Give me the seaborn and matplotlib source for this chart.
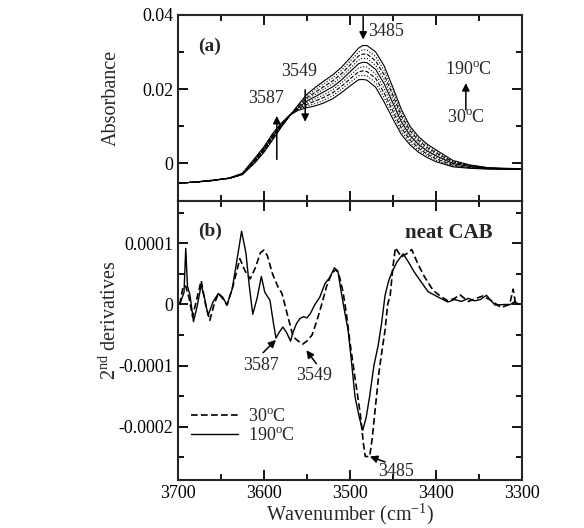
import numpy as np
import matplotlib.pyplot as plt
import seaborn as sns
from matplotlib.ticker import MultipleLocator, FuncFormatter

# (a) absorbance spectra, 30 -> 190 C, values in units of 1e-4
wn_abs = [3700, 3680, 3660, 3640, 3625, 3610, 3600, 3590, 3580, 3570, 3560,
          3550, 3540, 3530, 3520, 3510, 3500, 3490, 3485, 3480, 3470, 3460,
          3450, 3440, 3430, 3420, 3410, 3400, 3380, 3360, 3340, 3320, 3300]
temps = [30, 50, 70, 90, 110, 130, 150, 170, 190]
abs_30 = [-53, -50, -45, -40, -30, 3, 30, 63, 97, 128, 158, 186, 205, 222, 238, 258, 283,
          310, 317, 317, 300, 262, 205, 145, 100, 72, 52, 37, 8, -4, -11, -13, -14]
abs_50 = [-53, -50, -45, -40, -30, 5, 32, 65, 98, 128, 156, 182, 199, 215, 230, 250, 274,
          299, 306, 305, 288, 250, 194, 137, 94, 67, 48, 33, 6, -5, -11, -13, -14]
abs_70 = [-53, -50, -45, -40, -29, 6, 34, 67, 100, 129, 154, 177, 192, 207, 222, 241, 264,
          289, 294, 294, 276, 238, 184, 128, 88, 62, 43, 29, 4, -6, -12, -14, -15]
abs_90 = [-53, -50, -45, -40, -29, 8, 36, 69, 101, 129, 152, 173, 186, 200, 214, 233, 255,
          278, 283, 282, 264, 226, 173, 120, 81, 56, 39, 25, 2, -7, -12, -14, -15]
abs_110 = [-53, -50, -46, -39, -28, 10, 38, 72, 102, 129, 150, 168, 180, 193, 206, 224, 246,
           268, 272, 271, 253, 214, 163, 112, 75, 51, 34, 21, 0, -8, -13, -14, -15]
abs_130 = [-53, -50, -46, -39, -28, 11, 39, 74, 104, 129, 149, 164, 174, 185, 198, 216, 236,
           257, 260, 259, 241, 201, 152, 103, 69, 46, 30, 17, -2, -10, -13, -14, -15]
abs_150 = [-53, -50, -46, -39, -27, 13, 41, 76, 105, 130, 147, 159, 168, 178, 190, 207, 227,
           246, 249, 247, 229, 189, 141, 95, 63, 41, 25, 13, -5, -11, -14, -15, -15]
abs_170 = [-53, -50, -46, -39, -27, 14, 43, 78, 107, 130, 145, 155, 161, 170, 182, 199, 217,
           236, 237, 236, 217, 177, 131, 86, 56, 35, 21, 9, -7, -12, -14, -15, -16]
abs_190 = [-53, -50, -46, -39, -26, 16, 45, 80, 108, 130, 143, 150, 155, 163, 174, 190, 208,
           225, 226, 224, 205, 165, 120, 78, 50, 30, 16, 5, -9, -13, -15, -16, -16]
abs_all = [abs_30, abs_50, abs_70, abs_90, abs_110, abs_130, abs_150, abs_170, abs_190]

# (b) second derivatives, units of 1e-4
wn_d30 = [3698, 3694, 3691, 3687, 3683, 3678, 3673, 3668, 3663, 3658, 3653, 3648, 3643,
          3636, 3628, 3622, 3616, 3610, 3604, 3600, 3596, 3590, 3584, 3579, 3573, 3566,
          3560, 3555, 3550, 3544, 3538, 3533, 3527, 3521, 3516, 3512, 3508, 3504, 3500,
          3494, 3488, 3484, 3482, 3477, 3474, 3471, 3466, 3462, 3459, 3456, 3453, 3450,
          3447, 3440, 3432, 3428, 3421, 3413, 3403, 3394, 3386, 3378, 3372, 3362, 3353,
          3345, 3335, 3324, 3314, 3310, 3307, 3304]
d2_30 = [0.0, 0.3, 0.3, 0.1, -0.2, 0.1, 0.39, 0.0, -0.26, 0.0, 0.18, 0.1, -0.01,
         0.3, 0.75, 0.55, 0.42, 0.6, 0.85, 0.89, 0.8, 0.5, 0.3, 0.18, -0.15, -0.53,
         -0.6, -0.65, -0.6, -0.5, -0.25, -0.01, 0.3, 0.52, 0.57, 0.45, 0.21, -0.15, -0.61,
         -1.2, -1.78, -2.3, -2.49, -2.49, -2.2, -1.78, -1.1, -0.7, -0.42, 0.0, 0.15, 0.6,
         0.93, 0.78, 0.85, 0.9, 0.67, 0.45, 0.23, 0.13, 0.06, 0.1, 0.16, 0.05, 0.1,
         0.14, 0.06, -0.05, 0.0, 0.25, 0.0, 0.02]
wn_d190 = [3698, 3693, 3691, 3689, 3686, 3682, 3678, 3673, 3669, 3665, 3659, 3653, 3648,
           3643, 3637, 3633, 3626, 3621, 3617, 3613, 3608, 3603, 3599, 3593, 3589, 3586,
           3582, 3578, 3574, 3569, 3566, 3562, 3558, 3554, 3550, 3546, 3541, 3535, 3529,
           3523, 3518, 3514, 3510, 3505, 3502, 3498, 3494, 3489, 3485, 3481, 3477, 3472,
           3467, 3463, 3459, 3455, 3451, 3445, 3438, 3432, 3425, 3417, 3409, 3397, 3386,
           3378, 3370, 3362, 3355, 3348, 3341, 3331, 3320, 3313, 3308, 3304]
d2_190 = [0.0, 0.2, 0.92, 0.3, 0.15, -0.28, -0.05, 0.32, 0.1, -0.18, 0.05, 0.18, 0.12,
          -0.01, 0.25, 0.59, 1.2, 0.85, 0.3, -0.16, 0.1, 0.46, 0.2, 0.07, -0.3, -0.55,
          -0.45, -0.37, -0.45, -0.6, -0.45, -0.31, -0.23, -0.2, -0.22, -0.15, -0.01, 0.12, 0.34,
          0.45, 0.6, 0.55, 0.2, -0.2, -0.42, -0.95, -1.51, -1.85, -2.06, -1.85, -1.51, -1.0,
          -0.67, -0.3, 0.15, 0.38, 0.53, 0.7, 0.83, 0.7, 0.53, 0.37, 0.21, 0.12, 0.04,
          0.08, 0.05, 0.1, 0.06, 0.08, 0.15, -0.01, 0.0, 0.0, 0.05, 0.0]

sns.set_style('ticks')
plt.rcParams['font.family'] = ['Liberation Serif', 'DejaVu Serif']
plt.rcParams['mathtext.fontset'] = 'custom'
plt.rcParams['mathtext.rm'] = 'Liberation Serif'
plt.rcParams['mathtext.bf'] = 'Liberation Serif:bold'
plt.rcParams['axes.linewidth'] = 1.5

fig = plt.figure(figsize=(5.84, 5.28), dpi=100)
ax1 = fig.add_axes([0.3048, 0.6199, 0.5885, 0.3523])
ax2 = fig.add_axes([0.3048, 0.0915, 0.5885, 0.5284], sharex=ax1)

styles = ['-', ':', '--', ':', '-', ':', '--', ':', '-']
for vals, ls in zip(abs_all, styles):
    sns.lineplot(x=wn_abs, y=np.array(vals) * 1e-4, ax=ax1, color='k',
                 linewidth=0.8, linestyle=ls, estimator=None, sort=False)

deg = '$^{\\mathrm{o}}$C'
sns.lineplot(x=wn_d30, y=np.array(d2_30) * 1e-4, ax=ax2, color='k', linewidth=1.2,
             linestyle=(0, (4, 2)), estimator=None, sort=False, label='30' + deg)
sns.lineplot(x=wn_d190, y=np.array(d2_190) * 1e-4, ax=ax2, color='k', linewidth=1.0,
             estimator=None, sort=False, label='190' + deg)

fmt = FuncFormatter(lambda v, p: '0' if abs(v) < 1e-12 else f'{v:g}')
for ax in (ax1, ax2):
    ax.set_xlim(3700, 3300)
    ax.xaxis.set_major_locator(MultipleLocator(100))
    ax.xaxis.set_minor_locator(MultipleLocator(50))
    ax.yaxis.set_major_formatter(fmt)
    ax.tick_params(which='both', direction='in', top=True, right=True,
                   width=1.3, labelsize=13, colors='k')
    ax.tick_params(which='major', length=7)
    ax.tick_params(which='minor', length=4)

ax1.set_ylim(-0.01, 0.04)
ax1.yaxis.set_major_locator(MultipleLocator(0.02))
ax1.yaxis.set_minor_locator(MultipleLocator(0.01))
ax1.tick_params(labelbottom=False)
ax1.set_ylabel('Absorbance', fontsize=14.5)
ax1.yaxis.set_label_coords(-0.165, 0.55)

ax2.set_ylim(-0.000287, 0.00017)
ax2.yaxis.set_major_locator(MultipleLocator(0.0001))
ax2.yaxis.set_minor_locator(MultipleLocator(0.00005))
ax2.set_ylabel('2$^{\\mathrm{nd}}$ derivatives', fontsize=14.5)
ax2.yaxis.set_label_coords(-0.165, 0.57)
ax2.set_xlabel('Wavenumber (cm$^{-1}$)', fontsize=14.5, labelpad=0)

arrow = dict(arrowstyle='-|>', color='k', lw=1.1, mutation_scale=11, shrinkA=0, shrinkB=0)

# panel (a) annotations
ax1.text(3676, 0.0315, '(a)', fontsize=14, fontweight='bold', va='center')
ax1.annotate('', xy=(3484.5, 0.0333), xytext=(3484.5, 0.0395), arrowprops=arrow)
ax1.text(3479, 0.0355, '3485', fontsize=13, va='center')
ax1.annotate('', xy=(3552, 0.0112), xytext=(3552, 0.0198), arrowprops=arrow)
ax1.text(3559, 0.0247, '3549', fontsize=13, va='center', ha='center')
ax1.annotate('', xy=(3585, 0.0128), xytext=(3585, 0.0011), arrowprops=arrow)
ax1.text(3598, 0.0175, '3587', fontsize=13, va='center', ha='center')
ax1.annotate('', xy=(3365, 0.0216), xytext=(3365, 0.0144), arrowprops=arrow)
ax1.text(3362, 0.0251, '190' + deg, fontsize=13, va='center', ha='center')
ax1.text(3365, 0.0122, '30' + deg, fontsize=13, va='center', ha='center')

# panel (b) annotations
ax2.text(3676, 0.000120, '(b)', fontsize=14, fontweight='bold', va='center')
ax2.text(3334, 0.000117, 'neat CAB', fontsize=15, fontweight='bold', va='center', ha='right')
ax2.annotate('', xy=(3586, -0.000058), xytext=(3601, -0.000079), arrowprops=arrow)
ax2.text(3603, -0.000100, '3587', fontsize=13, va='center', ha='center')
ax2.annotate('', xy=(3550.6, -0.000075), xytext=(3539, -0.000097), arrowprops=arrow)
ax2.text(3541, -0.000117, '3549', fontsize=13, va='center', ha='center')
ax2.annotate('', xy=(3476.7, -0.000249), xytext=(3459, -0.000258), arrowprops=arrow)
ax2.text(3446, -0.000274, '3485', fontsize=13, va='center', ha='center')

ax2.legend(loc='lower left', bbox_to_anchor=(0.0, 0.08), frameon=False, fontsize=13,
           handlelength=2.6, labelspacing=0.1, borderaxespad=0.3, handletextpad=0.6)

plt.savefig('out.png', dpi=100)
